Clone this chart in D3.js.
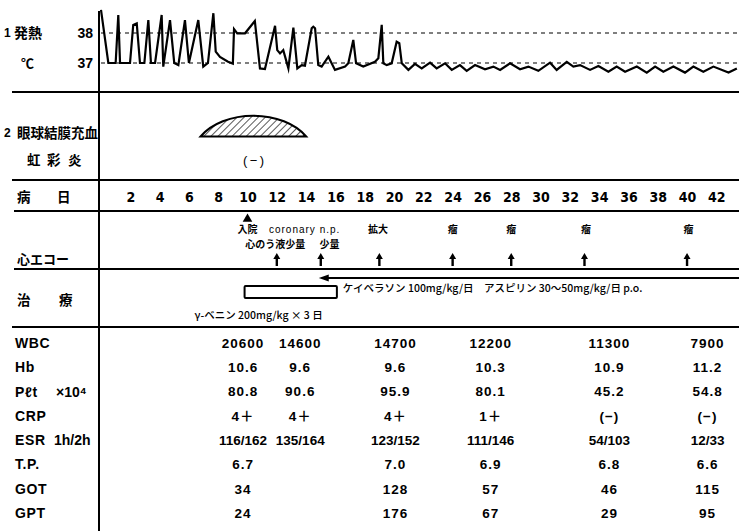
<!DOCTYPE html>
<html><head><meta charset="utf-8">
<script src="https://cdn.jsdelivr.net/npm/d3@7"></script>
<style>
body{margin:0;background:#fff}
svg{display:block}
.jp{font-family:"Noto Sans CJK JP",sans-serif;font-weight:700}
.lat{font-family:"Liberation Sans","Noto Sans CJK JP",sans-serif;font-weight:700}
</style>
</head><body>
<svg id="c" width="739" height="531"></svg>
<script>
// ---------- DATA ----------
const dayTicks = [2,4,6,8,10,12,14,16,18,20,22,24,26,28,30,32,34,36,38,40,42];
const tempTicks = [37, 38];
const feverDays = [0,0.5,1.0,1.18,1.3,1.98,2.2,2.44,2.66,2.96,3.23,3.41,3.69,4.14,4.25,4.71,5.0,5.28,5.73,6.0,6.64,6.98,7.3,7.67,7.83,8.12,8.67,9.0,9.08,9.3,9.83,10.5,10.85,11.19,11.88,12.03,12.22,12.44,12.79,13.13,13.4,13.7,13.92,14.38,14.49,14.61,14.83,15.06,15.52,15.97,16.66,16.88,17.22,17.41,17.9,18.7,18.93,19.16,19.27,19.5,19.84,20.18,20.36,20.53,20.98,21.43,21.89,22.46,22.91,23.48,23.94,24.5,24.96,25.53,26.21,26.78,27.24,27.92,28.6,29.17,29.85,30.65,31.1,31.79,32.24,32.7,33.38,33.95,34.63,35.2,35.77,36.57,37.25,37.82,38.38,39.07,39.86,40.43,41.11,41.8,42.83,43.4];
const feverTemps = [38.77,37.0,37.0,38.6,37.0,37.0,38.27,38.32,37.0,37.0,38.43,37.0,37.0,38.6,36.88,38.43,37.0,36.93,38.43,37.0,38.43,36.88,37.0,38.66,37.38,37.2,37.04,36.98,38.13,37.99,37.99,38.4,36.82,36.8,38.24,37.43,37.32,37.43,36.82,38.18,36.82,36.93,36.91,38.16,38.21,38.16,36.93,36.88,37.21,36.77,36.88,36.99,37.77,36.99,36.88,37.04,37.16,38.27,36.99,36.93,36.99,37.71,37.66,36.99,36.77,36.97,36.82,37.01,36.82,36.99,36.77,36.93,36.74,36.93,36.79,36.88,36.77,36.99,36.79,36.88,36.74,37.01,36.77,37.04,36.88,36.93,36.77,36.9,36.71,36.88,36.71,36.88,36.68,36.88,36.71,36.88,36.68,36.88,36.71,36.88,36.68,36.82];
const eyeRange = [6.8, 14.0];
const iritisDay = 10.5;
const iritisText = "(−)";
const admitDay = 10;
const echoDays = [12, 15, 19, 24, 28, 33, 40];
const echoLine1Days = [10, 13.9, 18.9, 24, 28, 33.1, 40.1];
const echoLine1Texts = ["入院", "coronary n.p.", "拡大", "瘤", "瘤", "瘤", "瘤"];
const echoLine2Days = [11.9, 15.6];
const echoLine2Texts = ["心のう液少量", "少量"];
const gammaRange = [9.8, 16.1];
const gammaText = "γ-ベニン 200mg/kg  × 3 日";
const aspirinStart = 15;
const aspirinText = "ケイベラソン 100mg/kg/日　アスピリン 30〜50mg/kg/日 p.o.";
const labNames = ["WBC", "Hb", "Pℓt", "CRP", "ESR", "T.P.", "GOT", "GPT"];
const labUnits = ["", "", "×10⁴", "", "1h/2h", "", "", ""];
const labDays = [9.7, 13.6, 20.1, 26.6, 34.7, 41.4];
const wbc = ["20600", "14600", "14700", "12200", "11300", "7900"];
const hb  = ["10.6", "9.6", "9.6", "10.3", "10.9", "11.2"];
const plt = ["80.8", "90.6", "95.9", "80.1", "45.2", "54.8"];
const crp = ["4＋", "4＋", "4＋", "1＋", "(−)", "(−)"];
const esr = ["116/162", "135/164", "123/152", "111/146", "54/103", "12/33"];
const tp  = ["6.7", "", "7.0", "6.9", "6.8", "6.6"];
const got = ["34", "", "128", "57", "46", "115"];
const gpt = ["24", "", "176", "67", "29", "95"];
const labRows = [wbc, hb, plt, crp, esr, tp, got, gpt];

// ---------- CHART ----------
const svg = d3.select("#c");
const W = 739;
const x = d3.scaleLinear().domain([0, 43]).range([101, 731]);
const yT = d3.scaleLinear().domain([37, 38]).range([63, 33]);
const yLab = d3.scalePoint().domain(labNames).range([343, 513]);

const defs = svg.append("defs");
defs.append("pattern").attr("id","hatch").attr("patternUnits","userSpaceOnUse")
  .attr("width",5).attr("height",5).attr("patternTransform","rotate(45)")
  .append("line").attr("x1",0).attr("y1",0).attr("x2",0).attr("y2",5)
  .attr("stroke","#000").attr("stroke-width",1.3);

// section lines
[[92,12],[180,12],[211,14],[269,14],[327,12]].forEach(([y,x0])=>{
  svg.append("line").attr("x1",x0).attr("x2",W).attr("y1",y).attr("y2",y)
    .attr("stroke","#000").attr("stroke-width",2.2);
});
svg.append("line").attr("x1",99).attr("x2",99).attr("y1",11).attr("y2",531)
  .attr("stroke","#000").attr("stroke-width",2);

// fever reference lines
svg.selectAll(".ref").data(tempTicks).join("line")
  .attr("x1",101).attr("x2",W).attr("y1",d=>yT(d)).attr("y2",d=>yT(d))
  .attr("stroke","#000").attr("stroke-width",1.2).attr("stroke-dasharray","4,4");

// temperature axis labels
const ax = svg.append("g").attr("transform","translate(95,0)")
  .call(d3.axisLeft(yT).tickValues(tempTicks).tickSize(0).tickPadding(2).tickFormat(d3.format("d")));
ax.select(".domain").remove();
ax.selectAll("text").style("font-size","14px").style("font-family",'"Liberation Sans",sans-serif').style("font-weight","700").attr("fill","#000");

// temperature line
const pts = feverDays.map((d,i)=>[d, feverTemps[i]]);
svg.append("path").datum(pts)
  .attr("d", d3.line().x(d=>x(d[0])).y(d=>yT(d[1])))
  .attr("fill","none").attr("stroke","#000").attr("stroke-width",2.2)
  .attr("stroke-linejoin","miter").attr("stroke-miterlimit",6);

// left labels
function txt(t, px, py, size, cls, anchor){
  return svg.append("text").attr("x",px).attr("y",py).attr("dy","0.36em")
    .attr("class",cls).attr("font-size",size).attr("text-anchor",anchor||"start").text(t);
}
txt("1", 4, 33, 12, "lat");
txt("発熱", 14, 33, 14, "jp");
txt("℃", 21, 63, 13, "jp");
txt("2", 4, 133, 12, "lat");
txt("眼球結膜充血", 17, 133, 13.5, "jp");
txt("虹", 27, 160, 13.5, "jp");
txt("彩", 47, 160, 13.5, "jp");
txt("炎", 68, 160, 13.5, "jp");
txt("病", 17, 197, 13.5, "jp");
txt("日", 57, 197, 13.5, "jp");
txt("心エコー", 17, 259, 13, "jp");
txt("治", 17, 300, 13.5, "jp");
txt("療", 59, 300, 13.5, "jp");

// eye dome
const ex1 = x(eyeRange[0]), ex2 = x(eyeRange[1]), eyB = 136.5;
const rx = (ex2-ex1)/2*1.15, ry = 41;
svg.append("path")
  .attr("d", `M${ex1},${eyB} A${rx},${ry} 0 0 1 ${ex2},${eyB} Z`)
  .attr("fill","url(#hatch)").attr("stroke","#000").attr("stroke-width",2.2);
txt(iritisText, x(iritisDay), 160, 13, "lat", "middle").attr("letter-spacing", 2.5).style("font-weight",400);

// day axis
const dax = svg.append("g").attr("transform","translate(0,197)")
  .call(d3.axisBottom(x).tickValues(dayTicks).tickSize(0).tickPadding(0));
dax.select(".domain").remove();
dax.selectAll("text").attr("dy","0.36em").attr("y",0).attr("fill","#000")
  .style("font-family",'"DejaVu Sans Condensed","DejaVu Sans",sans-serif')
  .style("font-weight","700").style("font-size","14px");

// echo
svg.append("path").attr("d", d3.symbol(d3.symbolTriangle, 40)())
  .attr("transform", `translate(${x(admitDay)},219)`).attr("fill","#000");
echoLine1Texts.forEach((t,i)=>{
  const lat = /^[a-z]/.test(t);
  txt(t, x(echoLine1Days[i]), 229.5, 10, lat?"lat":"jp", "middle")
    .attr("letter-spacing", lat?1:0).style("font-weight", lat?400:700);
});
echoLine2Texts.forEach((t,i)=>{
  txt(t, x(echoLine2Days[i]), 244, 10, "jp", "middle");
});
svg.selectAll(".earrow").data(echoDays).join("path")
  .attr("d", d=>{const cx=x(d); return `M${cx},253 L${cx+3.5},259 L${cx+1.2},259 L${cx+1.2},266 L${cx-1.2},266 L${cx-1.2},259 L${cx-3.5},259 Z`;})
  .attr("fill","#000");

// treatment
svg.append("rect").attr("x",x(gammaRange[0])).attr("y",286)
  .attr("width",x(gammaRange[1])-x(gammaRange[0])).attr("height",12)
  .attr("fill","none").attr("stroke","#000").attr("stroke-width",2).attr("rx",1);
const ax0 = x(aspirinStart);
svg.append("line").attr("x1",ax0+4).attr("x2",W).attr("y1",278).attr("y2",278)
  .attr("stroke","#000").attr("stroke-width",2);
svg.append("path").attr("d",`M${ax0-2},278 L${ax0+8},274.5 L${ax0+8},281.5 Z`).attr("fill","#000");
txt(aspirinText, ax0+22, 288, 10.5, "jp").style("font-weight",500);
txt(gammaText, x(gammaRange[0])-50, 315, 10.5, "jp").style("font-weight",500);

// labs
labNames.forEach((n,i)=>{
  txt(n, 15, yLab(n), 14, "lat").attr("letter-spacing",0.6);
  if(labUnits[i]) txt(labUnits[i], n==="ESR"?54:56, yLab(n), 14, "lat");
});
labRows.forEach((row,r)=>{
  row.forEach((v,c)=>{
    if(!v) return;
    txt(v, x(labDays[c]), yLab(labNames[r]), 13.5, "lat", "middle")
      .attr("letter-spacing", labNames[r]==="ESR" ? 0 : 1);
  });
});
</script>
</body></html>
